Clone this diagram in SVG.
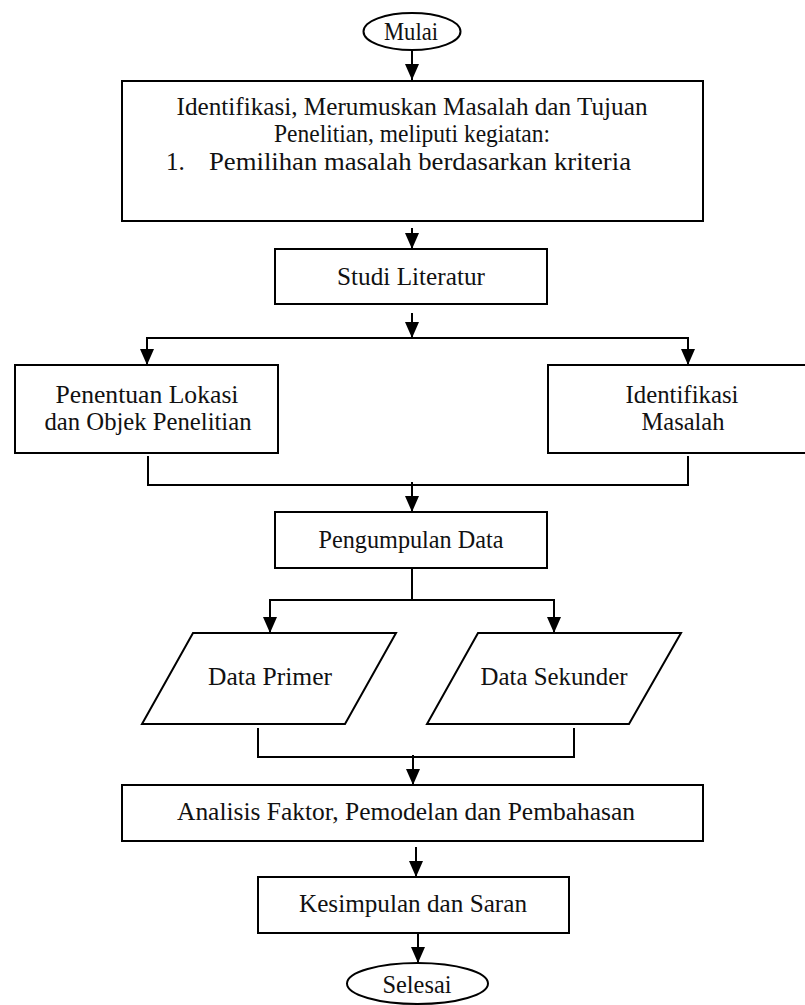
<svg xmlns="http://www.w3.org/2000/svg" width="805" height="1005" viewBox="0 0 805 1005">
<style>
.shape{fill:#fff;stroke:#000;stroke-width:2}
.conn{fill:none;stroke:#000;stroke-width:2}
text{font-family:"Liberation Serif","Times New Roman",serif;font-size:25px;fill:#111}
.c{text-anchor:middle}
</style>
<defs>
<marker id="ah" viewBox="0 0 16 14" refX="16" refY="7" markerWidth="16" markerHeight="14" markerUnits="userSpaceOnUse" orient="auto">
<path d="M0,0 L16,7 L0,14 z" fill="#000"/>
</marker>
</defs>
<rect width="805" height="1005" fill="#fff"/>
<g id="connectors">
<path class="conn" d="M412,50 V80" marker-end="url(#ah)"/>
<path class="conn" d="M412,228 V249" marker-end="url(#ah)"/>
<path class="conn" d="M412,313 V338" marker-end="url(#ah)"/>
<path class="conn" d="M412,338 H147 V365" marker-end="url(#ah)"/>
<path class="conn" d="M412,338 H688 V365" marker-end="url(#ah)"/>
<path class="conn" d="M148,456 V485 H688 V456"/>
<path class="conn" d="M412,482 V512" marker-end="url(#ah)"/>
<path class="conn" d="M412,568 V600"/>
<path class="conn" d="M412,600 H270 V633" marker-end="url(#ah)"/>
<path class="conn" d="M412,600 H554 V633" marker-end="url(#ah)"/>
<path class="conn" d="M258,728 V757 H574 V728"/>
<path class="conn" d="M413,755 V785" marker-end="url(#ah)"/>
<path class="conn" d="M416,847 V877" marker-end="url(#ah)"/>
<path class="conn" d="M418,933 V963" marker-end="url(#ah)"/>
</g>
<g id="mulai">
<ellipse class="shape" cx="412" cy="31.5" rx="48.5" ry="18.5"/>
<text class="c" x="411" y="40" textLength="54" lengthAdjust="spacingAndGlyphs">Mulai</text>
</g>
<g id="identifikasi-tujuan">
<rect class="shape" x="122" y="81" width="581" height="140"/>
<text class="c" x="412" y="115" textLength="471" lengthAdjust="spacingAndGlyphs">Identifikasi, Merumuskan Masalah dan Tujuan</text>
<text class="c" x="412" y="142" textLength="276" lengthAdjust="spacingAndGlyphs">Penelitian, meliputi kegiatan:</text>
<text x="166" y="170">1.</text>
<text x="209" y="170" textLength="422" lengthAdjust="spacingAndGlyphs">Pemilihan masalah berdasarkan kriteria</text>
</g>
<g id="studi-literatur">
<rect class="shape" x="275" y="249" width="272" height="55"/>
<text class="c" x="411" y="285" textLength="148" lengthAdjust="spacingAndGlyphs">Studi Literatur</text>
</g>
<g id="penentuan-lokasi">
<rect class="shape" x="15" y="365" width="263" height="88"/>
<text class="c" x="147" y="403" textLength="183" lengthAdjust="spacingAndGlyphs">Penentuan Lokasi</text>
<text class="c" x="148" y="430" textLength="207" lengthAdjust="spacingAndGlyphs">dan Objek Penelitian</text>
</g>
<g id="identifikasi-masalah">
<rect class="shape" x="548" y="365" width="280" height="88"/>
<text class="c" x="682" y="403" textLength="113" lengthAdjust="spacingAndGlyphs">Identifikasi</text>
<text class="c" x="683" y="430" textLength="83" lengthAdjust="spacingAndGlyphs">Masalah</text>
</g>
<g id="pengumpulan-data">
<rect class="shape" x="275" y="512" width="272" height="56"/>
<text class="c" x="411" y="548" textLength="185" lengthAdjust="spacingAndGlyphs">Pengumpulan Data</text>
</g>
<g id="data-primer">
<polygon class="shape" points="193,633 396,633 345,724 142,724"/>
<text class="c" x="270" y="685" textLength="124" lengthAdjust="spacingAndGlyphs">Data Primer</text>
</g>
<g id="data-sekunder">
<polygon class="shape" points="478,633 681,633 629,724 427,724"/>
<text class="c" x="554" y="685" textLength="147" lengthAdjust="spacingAndGlyphs">Data Sekunder</text>
</g>
<g id="analisis">
<rect class="shape" x="122" y="785" width="581" height="56"/>
<text class="c" x="406" y="820" textLength="458" lengthAdjust="spacingAndGlyphs">Analisis Faktor, Pemodelan dan Pembahasan</text>
</g>
<g id="kesimpulan">
<rect class="shape" x="258" y="877" width="311" height="56"/>
<text class="c" x="413" y="912" textLength="228" lengthAdjust="spacingAndGlyphs">Kesimpulan dan Saran</text>
</g>
<g id="selesai">
<ellipse class="shape" cx="417.5" cy="983.5" rx="70.5" ry="20.5"/>
<text class="c" x="417" y="993" textLength="69" lengthAdjust="spacingAndGlyphs">Selesai</text>
</g>
</svg>
